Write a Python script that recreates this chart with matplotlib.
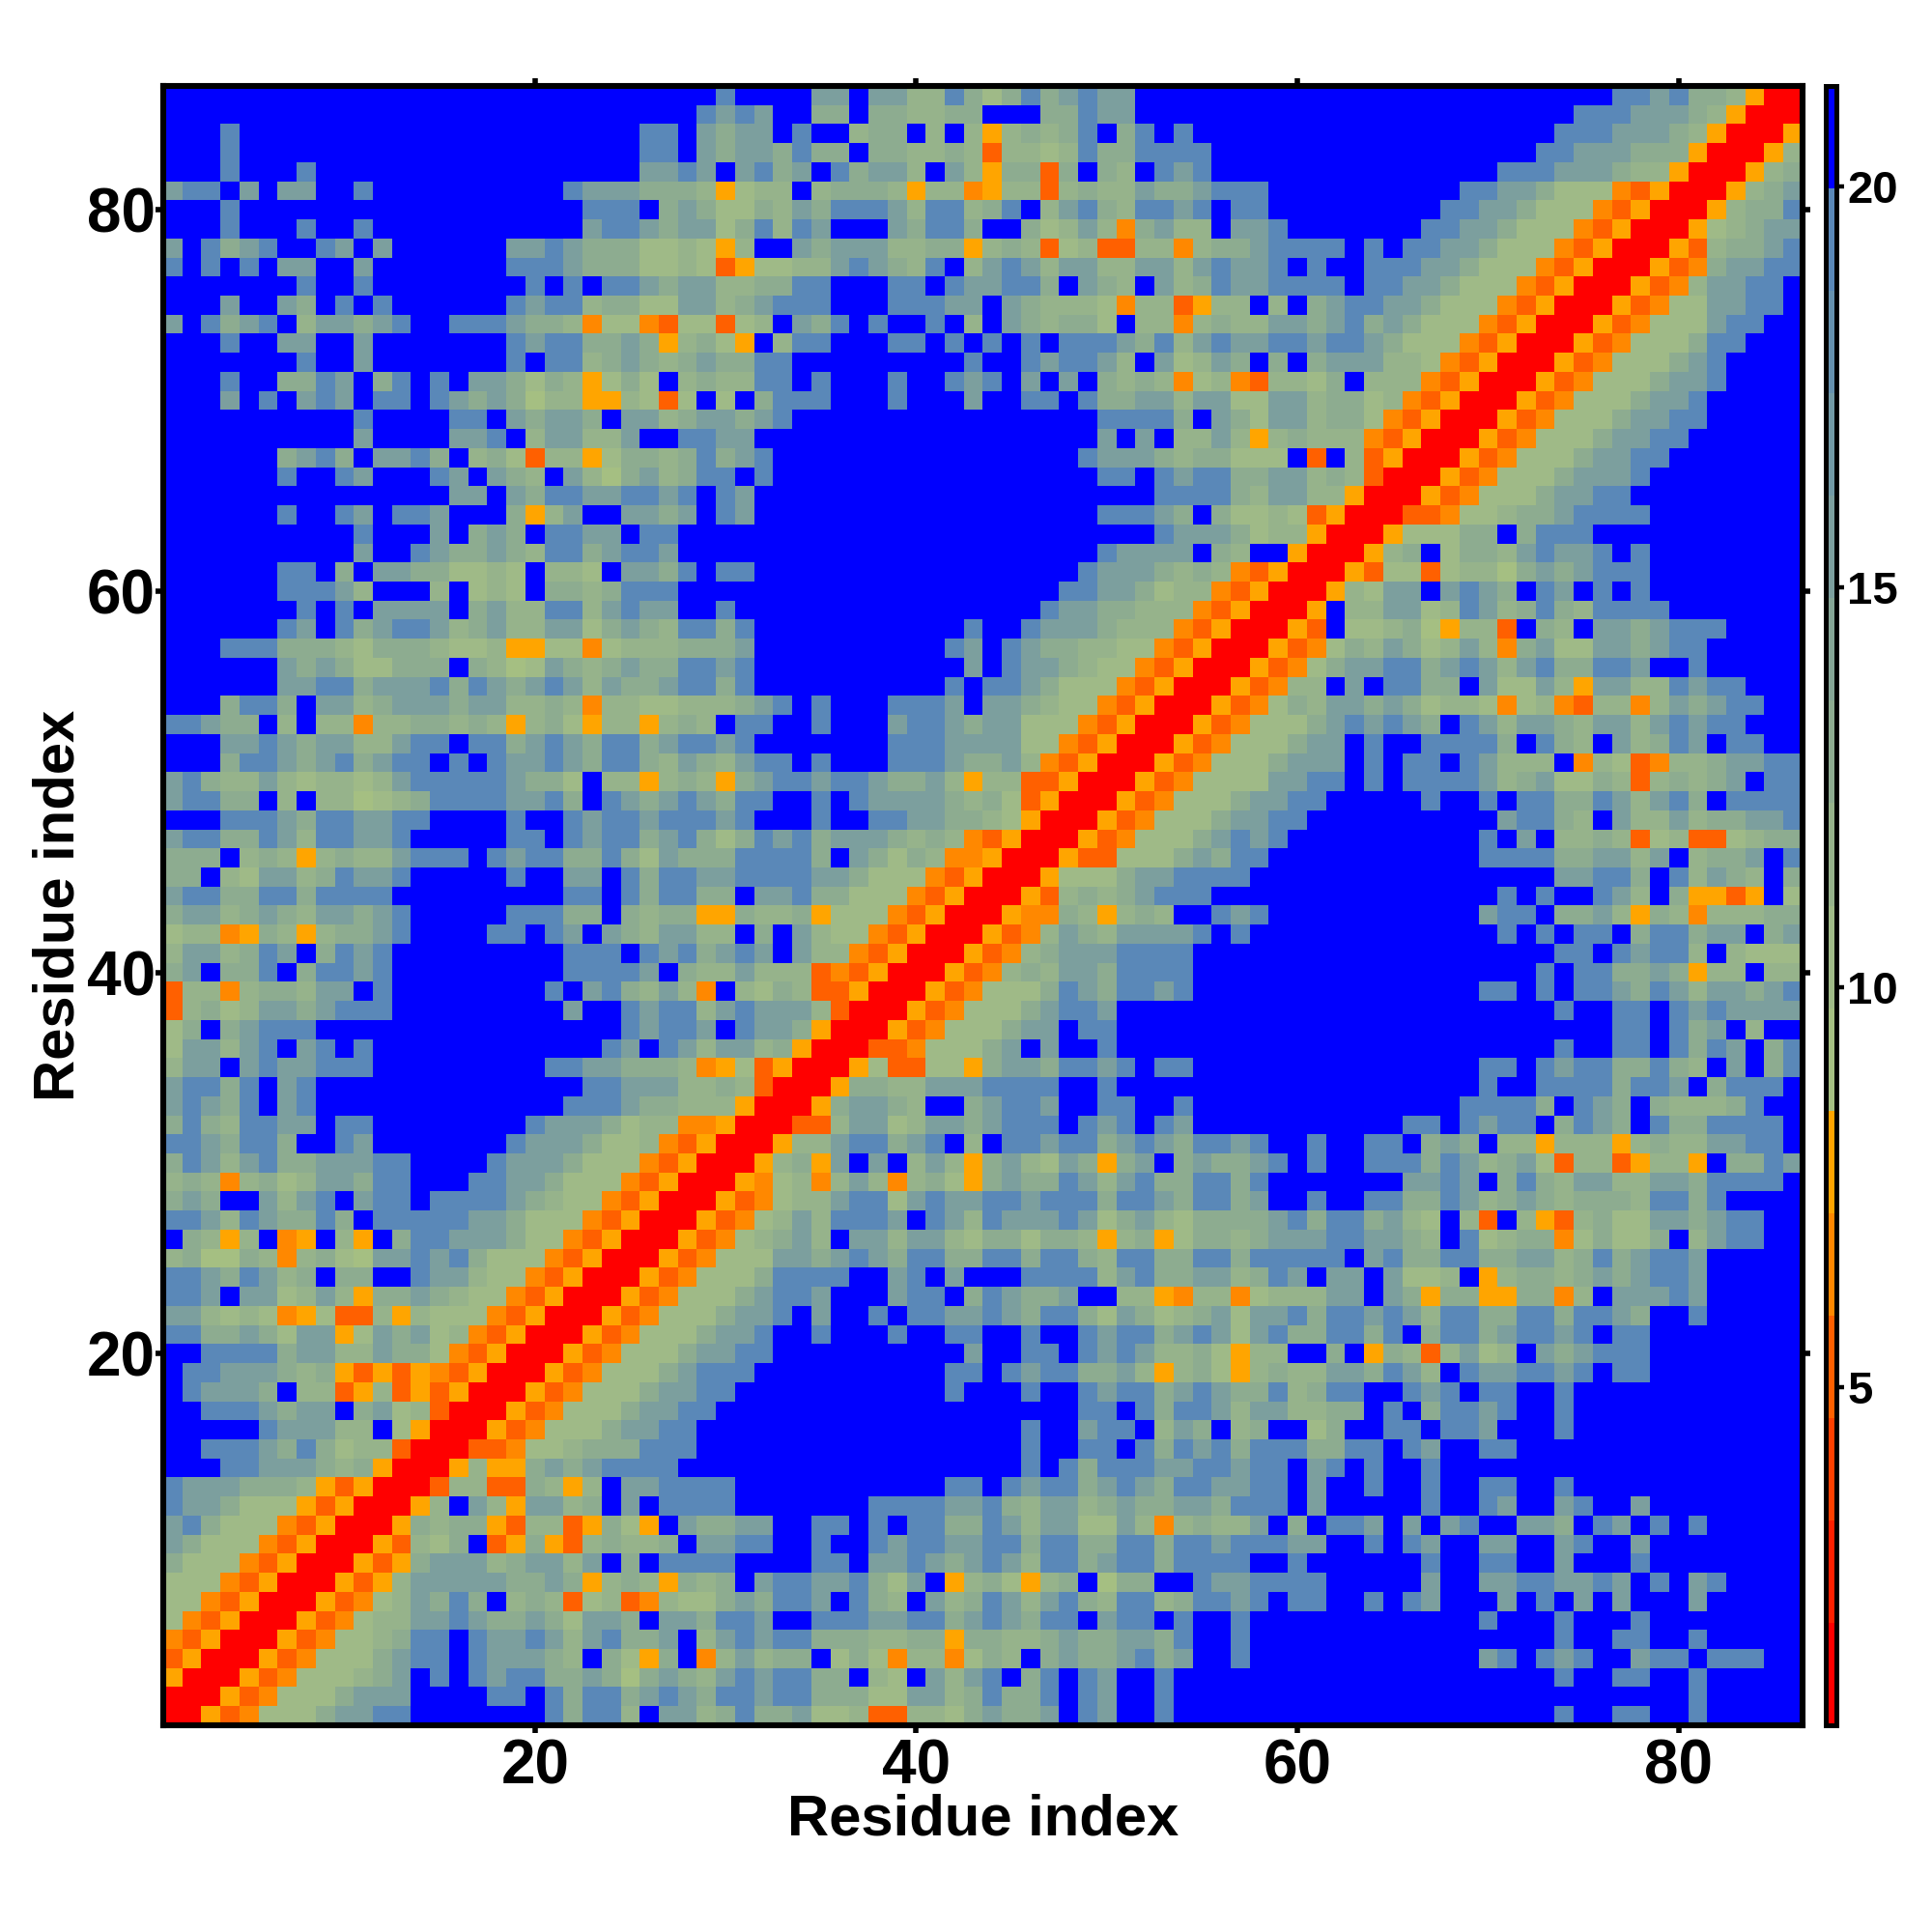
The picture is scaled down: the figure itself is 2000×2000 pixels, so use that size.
import numpy as np
import matplotlib
matplotlib.use("Agg")
import matplotlib.pyplot as plt
from matplotlib.colors import ListedColormap, BoundaryNorm

plt.rcParams['font.family'] = ['Liberation Sans', 'DejaVu Sans']
plt.rcParams['font.weight'] = 'bold'

# distance per letter
level_values = {'R': 1.4, 'H': 5.0, 'O': 6.5, 'Y': 7.8, 'a': 9.0, 'b': 10.5, 'c': 11.5,
                'd': 13.0, 'e': 16.0, 'f': 19.0, 'B': 21.0}

# map rows, top row (residue 86) first, one letter per cell, spaces only for reading
map_rows = [
    "BBBBBBBBBB BBBBBBBBBB BBBBBBBBBf BBBBeeBeec cfdbdfdefe eBBBBBBB BB BBBBBBBBBB BBBBBBffef ddcYRR",
    "BBBBBBBBBB BBBBBBBBBB BBBBBBBBfe feBBddBddc cddBBBddfe eBBBBBBB BB BBBBBBBBBB BBBBfffeee dcYRRR",
    "BBBfBBBBBB BBBBBBBBBB BBBBBffBed eeBfBBcddB cBcYcdcdfB dfBfBBBB BB BBBBBBBBBB BBBfffeeed cYRRRY",
    "BBBfBBBBBB BBBBBBBBBB BBBBBffBed eedfddBddc cdcHccbcfd dffffBBB BB BBBBBBBBBB BBffeeeddd YRRRYc",
    "BBBfBBBfBB BBBBBBBBBB BBBBBeefeB efdeBfdeec BecYddHdBd cBfefBBB BB BBBBBBBBBB fffeeedccY RRRYcd",
    "effBeBeeBB fBBBBBBBBB BfeeedddcY bccBcdddcY ccOYccHcdc ceddefff BB BBBBBBBBff eedbbbOHYR RRYcde",
    "BBBfBBBBBB BBBBBBBBBB BBfffBdedb bdcedfffec ffcdfBcefd cffefBff BB BBBBBBBffe edbbbOHYRR RYcddf",
    "BBBfBBBfBB fBBBBBBBBB BBeffedeeb dfcfeBBBed ffdBBdbcec OdeccBee fB BBBBBBffee dbbbOHYRRR Ybcdee",
    "eBfdefBBfe BeBBBBBBee fedddbbcbY cBBedeeecc ddYcdcHbcH HccOcdde ff ffBfBffeed bbbOHYRRRY Hcddef",
    "fBfBfBeeBB eBBBBBBBff fedddbbcbH Ybbccefedc fBcefeceec ceecefee fB fBBfffeedb bbOHYRRRYH Odeeff",
    "BBBBBBBfBB fBBBBBBBBf BfBffedeec cddffBBBff BfeeffdBed cBecdfee ff ffBffeedbb bOHYRRRYHO ceeffB",
    "BBBeBBedBf BfBBBBBBfe ffcddbbeec defffBBBff feeBedcccb OccHYccB cB deffeedbbb OHYRRRYHOb beeffB",
    "eBfdefBcee defBBfffed dcObbOHbbH bcBedfBfBB fBcBedcddb BccOcdcc ee defdedbbbO HYRRRYHObb beffBB",
    "BBBfBBeeBB eBBBBBBBfe ffddedYcdb YBcffBBBff BfBfBfBfff edfcefee ff effedbbbOH YRRRYHObbb dffBBB",
    "BBBBBBBfBB eBBBBBBBfB ffcdedcded dffBBBBBBB BBfBBfeffe cBebcedB dB deeeccbOHY RRRYHObbbd efBBBB",
    "BBBfBBddfe BdfBfBeedb dcYbdbBcdc cffBfBBBfB BfefBeBeBd cdcObcOH cc bdBcccOHYR RRYHObbbde efBBBB",
    "BBBeBfBefe BffBfededa ccYYcbHbBb BdfffBBBfB BBeBBffBfd deeceebb ee cddbcOHYRR RYHObbbdee fBBBBB",
    "BBBBBBBBBB fBBBBffBed eedBeecdee defBBBBBBB BBBBBBBBBf fffdBedb ee cddbOHYRRR YHObbbdeef fBBBBB",
    "BBBBBBBBBB eBBBBeefBc eecceBBffe eBBBBBBBBB BBBBBBBBBe BeBccecY cd cccOHYRRRY HObbbdeeff BBBBBB",
    "BBBBBBdefd BeefdBcdbH ccYbddcdfd efBBBBBBBB BBBBBBBBfe eedcddbb bB HBcHYRRRYH ObbbdeeffB BBBBBB",
    "BBBBBBfBBf eBBBfeBedc Becadecdff BfBBBBBBBB BBBBBBBBBf fBfeffdd ee cdcHRRRYHO bbbdeeefBB BBBBBB",
    "BBBBBBBBBB BBBBBeeBed ffeeffefBf eBBBBBBBBB BBBBBBBBBB BBffffdc ee ccYRRRYHOb bbdeeffBBB BBBBBB",
    "BBBBBBfBBf eBffeBBBdY ceBBeedeBf eBBBBBBBBB BBBBBBBBBf ffedBdbb cb HYRRRHHObb cddeffffBB BBBBBB",
    "BBBBBBBBBB fBBBeBdedB ffeeBffBBB BBBBBBBBBB BBBBBBBBBB BBfeeedb cc YRRRYbbbdd BdfffBBBBB BBBBBB",
    "BBBBBBBBBB eBBfeddedc ffdeffeBBB BBBBBBBBBB BBBBBBBBBf eeeeBdcB BY RRRYcdBbdd cefeefBfBB BBBBBB",
    "BBBBBBffBd BeeddbbcbB ccbBeedfBf fBBBBBBBBB BBBBBBBBfe eedcdcOH YR RRYHbbHbcc adedefffBB BBBBBB",
    "BBBBBBfffe cBBBcBbcbB ddcdfffBBB BBBBBBBBBB BBBBBBBffe edbccOHY RR RYcbeeBefe dBfeBfBfBB BBBBBB",
    "BBBBBBBfBf BeeeeBdecc ffcefeeBBf BBBBBBBBBB BBBBBBfeed dcccOHYR RR YBcceebcfe cdfdcffffB BBBBBB",
    "BBBBBBfeBf deffecdecc eebdedcffd fBBBBBBBBB BBfBBfeeed cccOHYRR RY HBbbcdaYcc HBdcBeedef ffBBBB",
    "BBBfffdddc bdddcbbcYY bbObcccddd eBBBBBBBBB BfeBfeddcc bbOHYRRR YH Obdcedbcec Odebbeedef fBBBBB",
    "BBBBBBeded bbdddBdcab edcdeddffe fBBBBBBBBB BBeBfeedcb bOHYRRRY HO bdeeffdefe cefddffeBB fBBBBB",
    "BBBBBBeeff deeefdfede feceddeffd fBBBBBBBBB BfBffedbbb OHYRRRYH Oc cBeBffddBe bbecYeeccf effBBB",
    "BBBdffdBee cdeeedeecc dcOccbbccc defBfBBBff feBeedcbbO HYRRRYHO bd ceededbccb ObcOHccOce deffBB",
    "ffeddBcBcc OccddcdcYc dbYccYcdcB ffBBfBBBef fedeebbbOH YRRRYHOb bb defefedBfe ceedceecef effBBB",
    "BBBeefedee cceffBffde fedffdeffe fBBBBBBBff feeeebbOHY RRRYHObb bd eeBfBBffff dBfdcBecdf eBffBB",
    "BBBdffedef deffBfBfee fedffdcedc effBfBBBff feddecOHYR RRYHObbb de eeBfBffBfe cccBOcbHOc cdeeff",
    "efdccecbcc bcefffffed dbBccYcdcY deffeffedd ecYccHHYRR RYHObbbb ee ffBfBffffe cdebbdcHcd cdeBff",
    "effddBcBcc abcdffffee fdBfedefed ffBBfBfeee edcdbHYRRR YHObbbde ef fBBBBBfBBf Bffddfecef dBffff",
    "BBBfffedff eeffBBBBfB Bfeffefffe fBBBfBBffe eddcbYRRRY HObbbdee ff BBBBBBBBBB effdcBecce cddeef",
    "effddfecff eefBBBBBff Bfeffdefdb dfefdeeedc dcOHYRRRYH Obbbdefe fB BBBBBBBBBf BeBccdcHbc HHbcdd",
    "dddBcdcYcd ccefffBfef fddfdbeddd ffffdBedbd cOOYRRRYHH bbbdedff BB BBBBBBBBBf fffddeeceB cddeBf",
    "ddBcbeecdf eefBBBBBfB BeeBfdffee ffffeedbbb OHYRRRYbbb deeffffB BB BBBBBBBBBB BBBeeffdBf cedcBd",
    "effddffdff ffBBBBBBBB BffBfdffdd BeefddbbbO HYRRRYHcdc defffBBB BB BBBBBBBBBB fBfBBfecBd YYHYBb",
    "deecdedcee defBBBBBff fddBdcddYY dccdYbbbOH YRRRYOOdcY cdcBBfef BB BBBBBBBBBe ffBddecYdc Occcdd",
    "bccOYdcYcd defBBBBffB feBedceecc BdBecbbOHY RRRYHOcedc eeeefBfB BB BBBBBBBBBB fBfBffBdff deeBde",
    "ceecdfeBdf efBBBBBBBB BfffBfefde feBeccOHYR RRYHOcdeee ffffBBBB BB BBBBBBBBBB BBBffBfeff cBcbbb",
    "deBddfBdff efBBBBBBBB BffffeBdcc ecccHOHYRR RYHOcdceed ffffBBBB BB BBBBBBBBBB BBfBffdded YccBcc",
    "HccOcddcee BfBBBBBBBB fBefdcecOB cbdcHHYRRR YHObbbdfed ffefBBBB BB BBBBBBBBBf fBfBffedfe ceedef",
    "Hcdbceedef ffBBBBBBBB BeBBfeffce feeecHRRRY HObbbdeffe BBBBBBBB BB BBBBBBBBBB BBBfBBffBf efeeee",
    "bdBdefffBB BBBBBBBBBB BBBBfeffeB feedYRRRYH ObbbdeeBff BBBBBBBB BB BBBBBBBBBB BBBBBBffBf deBcBB",
    "beecefBefB fBBBBBBBBB BBBfeBfece ecdYRRRHHO bbbdeBeBBf BBBBBBBB BB BBBBBBBBBB BBBfBBffBf dfeBdf",
    "ceeBefeeff fBBBBBBBBB ffeedddcOY bHYRRRYbHH bbYdeedffe fBffBBBB BB BBBBBBBBBf fBfeffddfd cBeBdf",
    "effdfBefBB BBBBBBBBBB BBffeeeccd cHRRRYddcc eeeffffBBf BBBBBBBB BB BBBBBBBBBf BBffffdffe BdfffB",
    "efedfBefBB BBBBBBBBBB Bfffeddccc YRRRYdeedc BBdeffeBBf fBBfBBBB BB BBBBBBBBff ffdBfedBdc ccdfBB",
    "dfdcffeeBf fBBBBBBBBf eeedbccOOY RRRHHceebc eedefffBfe fBfeBBBB BB BBBBBffBfe ffBdfedBfd dffffB",
    "ffedffdBBf eBBBBBBBfe eedbbcOHYR RRYcceffde fBcBffeffd efedffef BB fBBffBdedB ccYcccYcdc ceeffB",
    "dfecefddee effBBBBfee edbbbOHYRR RYcdYeBeBc ecYdecbedY deBdedde fB fBBfffdfec debHccHYcc YBddfe",
    "cdcOcdbcee dffBBBffee dbbbOHYRRR YObcOcecOc dbYdeddfec efddffdf BB BBBBBeefeB dfdceeccee dffffB",
    "dedBBecefB effBffffed cbbOHYRRRY HObcceffbe feeffefffd ffedffde BB fBBffddfec dedcdddcff dfBBBB",
    "ffecfeddfd Bfffffeedb bbOHYRRRYH ObcecfffeB fecfeeefeb decbdddd ef dffdecbBcH BcYHcdbbee deffBB",
    "BdcYcBOYBc YBdffeeedb bOHYRRRYHO bcdecBeece ecbddbddcY cdYbddcd ee effeedcBfb cddObdbbdB ceffBB",
    "cdaadcOcdb aeefefdbbb OHYRRRYHOb bbeedefedf fddffdffdc ffddffdf ff ffBefddffd deecdfdeff eBBBBB",
    "ffedfecdBd dBBfeecbbO HYRRRYHObb bdffffBBef BeBBBffffc efddeecd fe BeeBebbcBY cddcdedeff eBBBBB",
    "ffeBeebcec YddedcbbOH YRRRYHObbb deffeBBBef fBdfeddeBB ccYOccOb cc ceeBedYddY YddOcBeeef eBBBBB",
    "eecbcbOYbH HcYcbbbOHY RRRYHObbbd eefBeBBfBf feefedffdb edbcdebe ef dffefecffd dffdffedBB fBBBBB",
    "ffddedbeeY bedebcOHYR RRYHObbbde efBBfBBBfB BffBBfBBfe ffdefebe fd dffdfBdffd effefBffBB BBBBBB",
    "BBffffdeec ceddbOHYRR RYHObbbdee ffBBBBBBBB BBeBBffBfe feccdbYc cB BdBYdcHceb cBedefffBB BBBBBB",
    "BffeeedcdY HYHYOHYRRR YHObbbdeff fBBBBBBBBB BffBfeffdd ecYcdbYc dc ceedfecBfe effefBffBB BBBBBB",
    "BfeeedBccH YcHYHYRRRY HObbbdeeff BBBBBBBBBB BfBBBfBBfe ffdefedd fc dffBBfefBf fBBfBBBBBB BBBBBB",
    "BBfffedeeB debcHRRRYH ObbbdeeffB BBBBBBBBBB BBBBBBBBff Bfdffece ec cddBfBdffe fBBfBBBBBB BBBBBB",
    "BBBBBfeeec cBbYRRRYHO bbbdeeffBB BBBBBBBBBB BBBBBfBBef fBcedBcd BB bdBBffBffe BBBfBBBBBB BBBBBB",
    "BBfffedfdb ccHRRRHHOb bcdddfffBB BBBBBBBBBB BBBBBfBBff Bfdfefdf ff ddffBfeBBf fBBBBBBBBB BBBBBB",
    "BBBffeeedc dYRRRYcYYd edeffffBBB BBBBBBBBBB BBBBBfBfdf ffeeffef fB efBfBBfBBB BBBBBBBBBB BBBBBB",
    "feeedddcYH YRRRHccHHd cYcBeeffff BBBBBBBBBB BffBfeffde fedffeef fB eBBfBBfBBf fBBfBBBBBB BBBBBB",
    "feedbbbYHY RRRYcBecYe ecdBeBffff BBBBBBBfff feefdceecd eddeedff fB eBBBBBfBBf eBBefBBeBB BBBBBB",
    "efdbbbOHYR RRYdcddYHc cHYdbYBedd eeBBffBfBf fddfeceebb ecOcdcce Bd BffeBeBefB BeedBfeBfB fBBBBB",
    "edbbbOHYRR RYHcbdBHYd YHcdccdBee ffBBfBBfef feeffdffdd ffdffeff fe eBBfBfeBBe eBBefBBeBB BBBBBB",
    "dbbbOHYRRR YHYdeeecde eceBdBffff BBBBffBeef edefecffde ffdffffB Bf BBBBBBfBBf fBBeBBBfBB BBBBBB",
    "bbbOHYRRRY HYceeeeedd edYcdcYdcd Beffeefdbe BYcdbYcdBa ddBBfeef ff fBBBBBeBBe effeefeBfB efBBBB",
    "bbOHYRRRYH ObcedfdBcd cHbcHOcbbd edffeBfdcB ecdfecefdc ffcdffef Bf fBBfBfeBBB eBfBeBeBBB eBBBBB",
    "bOHYRRRYHO bcceefedde dbeedBeedf feBBfffeef fdefedffBe ffBfBBfB BB BBBBBBBBBf BBBfBBBfBB BBBBBB",
    "OHYRRRYHOb bcdffBfeef ecefddeBce feffdddccd dYddccdedd eedfBBfB BB BBBBBBBBBB BBBfBBffBB fBBBBB",
    "HYRRRYHObb bdeffBfeee dcBdbYdBOc ecddBbdbOc cObdcBdedd efdeBBfB BB BBBBBBBBBe fBfefBBeff BfffBB",
    "YRRRYHObbb cdeBfBfeff ddedadedce feffddBcbB ecefBdfBfe BBfBBBBB BB BBBBBBBBBB BBBfBBffBB fBBBBB",
    "RRRYHObbbd eeeBBBBffB fdffdefedf feffdddbbe ecdfddfBfe BBfBBBBB BB BBBBBBBBBB BBBBBBBBBB fBBBBB",
    "RRYHObbbde effBBBBBBB fdffcBeecd fddebbcHHc cbdeddeBfe BBfBBBBB BB BBBBBBBBBB BBBfBBffBB fBBBBB",
]

axis_ticks = [20, 40, 60, 80]
bar_ticks = [5, 10, 15, 20]

# 16 steps of the colour bar, bottom to top
bar_colors = ['#ff0000', '#ff2000', '#ff4000', '#ff6000', '#ff8800', '#ffa500',
              '#a5bf82', '#9fba87', '#96b38b', '#8dac90', '#85a696', '#7c9f9e',
              '#729aa6', '#6691ae', '#5a88b8', '#0000ff']
bar_edges = 0.78 + 1.28 * np.arange(17)

distances = np.array([[level_values[c] for c in r.replace(' ', '')] for r in map_rows])
n = distances.shape[0]

cmap = ListedColormap(bar_colors)
norm = BoundaryNorm(bar_edges, cmap.N)

fig = plt.figure(figsize=(10, 10), dpi=200)
ax = fig.add_axes([169 / 2000, 1 - 1786 / 2000, 1697 / 2000, 1697 / 2000])
im = ax.imshow(distances, cmap=cmap, norm=norm, origin='upper', interpolation='nearest',
               extent=(0.5, n + 0.5, 0.5, n + 0.5), aspect='auto')

ax.set_xticks(axis_ticks)
ax.set_yticks(axis_ticks)
ax.tick_params(axis='both', which='major', direction='out', length=3, width=2, top=True, right=True,
               labelsize=23)
ax.tick_params(axis='x', pad=2)
ax.tick_params(axis='y', pad=0)
ax.set_xlabel('Residue index', fontsize=21.5, fontweight='bold')
ax.set_ylabel('Residue index', fontsize=21.5, fontweight='bold')
ax.xaxis.set_label_coords(0.5, -0.0415)
ax.yaxis.set_label_coords(-0.0475, 0.5)
for spine in ax.spines.values():
    spine.set_linewidth(2.2)

cax = fig.add_axes([1890 / 2000, 1 - 1786 / 2000, 11 / 2000, 1697 / 2000])
cbar = fig.colorbar(im, cax=cax, spacing='proportional', drawedges=False)
cbar.set_ticks(bar_ticks)
cbar.minorticks_off()
cbar.ax.tick_params(direction='out', length=3, width=1.6, labelsize=17, pad=1)
cbar.outline.set_linewidth(1.8)

fig.savefig('out.png', dpi=200)
